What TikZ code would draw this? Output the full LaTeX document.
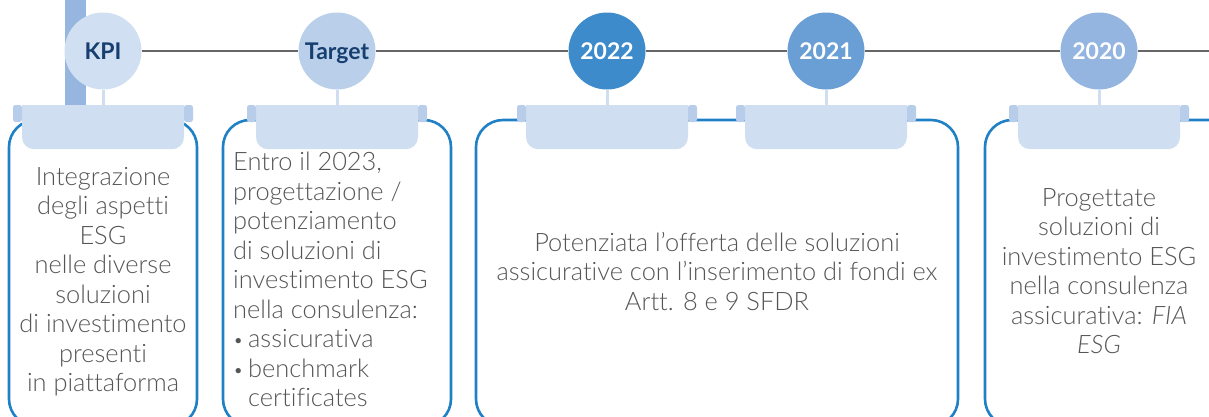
\documentclass[tikz,border=0pt]{standalone}
\usepackage{fontspec}
\setmainfont{Lato Light}[Ligatures=NoCommon, BoldFont=Lato Bold, ItalicFont=Lato Light Italic]
\newfontfamily\labelfont{Lato}[Ligatures=NoCommon]
\definecolor{barblue}{HTML}{97B6DF}
\definecolor{ckpi}{HTML}{D0DFF2}
\definecolor{ctarget}{HTML}{BACFEA}
\definecolor{ctwentytwo}{HTML}{3D8BCA}
\definecolor{ctwentyone}{HTML}{6A9FD5}
\definecolor{ctwenty}{HTML}{94B5DF}
\definecolor{tabfill}{HTML}{CFDFF1}
\definecolor{earfill}{HTML}{B8CDE9}
\definecolor{boxblue}{HTML}{1F80C5}
\definecolor{linegray}{HTML}{666666}
\definecolor{textgray}{HTML}{555555}
\definecolor{labelblue}{HTML}{173F70}
\newcommand{\mytab}[2]{%
  \fill[tabfill] ({#1-81},105) rectangle ({#1+81},127);
  \node[tabbody, anchor=north] (#2) at (#1,105) {};
  \fill[ear] ({#1-90},105) rectangle ({#1-81},122);
  \fill[ear] ({#1+81},105) rectangle ({#1+90},122);
}
\newcommand{\mybul}{\makebox[15pt][l]{\raisebox{1pt}{\fontsize{18}{18}\selectfont •}}}
\begin{document}
\begin{tikzpicture}[x=1pt,y=-1pt,
  circ/.style={circle, minimum size=77pt, inner sep=0pt, text height=16.6pt, text depth=0pt, font=\labelfont\fontsize{23}{26}\selectfont\bfseries},
  boxline/.style={draw=boxblue, line width=2.6pt, rounded corners=27pt},
  tabbody/.style={fill=tabfill, minimum width=162pt, minimum height=44pt, inner sep=0pt, rounded corners=12pt},
  ear/.style={fill=earfill, rounded corners=2.5pt},
  stem/.style={draw=tabfill, line width=3pt},
  tline/.style={draw=linegray, line width=2.5pt},
  body/.style={text=textgray, font=\fontsize{25.4}{29.5}\selectfont, inner sep=0pt}
]
\useasboundingbox (0,0) rectangle (1209,416);
\clip (0,0) rectangle (1209,416);
% vertical bar
\fill[barblue] (65,0) rectangle (86,105);
% boxes
\draw[boxline] (9,120) rectangle (197,426);
\draw[boxline] (223,120) rectangle (451,426);
\draw[boxline] (476,120) rectangle (958,426);
\draw[boxline] (985,120) rectangle (1236,426);
% tabs
\mytab{103}{tabK}
\mytab{337}{tabT}
\mytab{607}{tabA}
\mytab{826}{tabB}
\mytab{1099}{tabC}
% circles
\node[circ, fill=ckpi, text=labelblue] (kpi) at (103,51) {KPI};
\node[circ, fill=ctarget, text=labelblue] (target) at (337,51) {Target};
\node[circ, fill=ctwentytwo, text=white] (ya) at (607,51) {2022};
\node[circ, fill=ctwentyone, text=white] (yb) at (826,51) {2021};
\node[circ, fill=ctwenty, text=white] (yc) at (1099,51) {2020};
\coordinate (rend) at (1209,51);
% timeline
\draw[tline] (kpi) -- (target);
\draw[tline] (target) -- (ya);
\draw[tline] (ya) -- (yb);
\draw[tline] (yb) -- (yc);
\draw[tline] (yc) -- (rend);
% stems
\draw[stem] (kpi.south) -- (tabK.north);
\draw[stem] (target.south) -- (tabT.north);
\draw[stem] (ya.south) -- (tabA.north);
\draw[stem] (yb.south) -- (tabB.north);
\draw[stem] (yc.south) -- (tabC.north);
% texts
\node[body, align=center, anchor=north] (txK) at (103,167) {Integrazione\\degli aspetti\\ESG\\nelle diverse\\soluzioni\\di investimento\\presenti\\in piattaforma};
\node[body, align=left, anchor=north west] (txT) at (233,152) {Entro il 2023,\\progettazione /\\potenziamento\\di soluzioni di\\investimento ESG\\nella consulenza:\\\mybul assicurativa\\\mybul benchmark\\\hspace*{15pt}certificates};
\node[body, align=center, anchor=north] (txA) at (717,232) {Potenziata l’offerta delle soluzioni\\assicurative con l’inserimento di fondi ex\\Artt. 8 e 9 SFDR};
\node[body, align=center, anchor=north] (txC) at (1099,188) {Progettate\\soluzioni di\\investimento ESG\\nella consulenza\\assicurativa: \textit{FIA}\\\textit{ESG}};
\end{tikzpicture}
\end{document}
